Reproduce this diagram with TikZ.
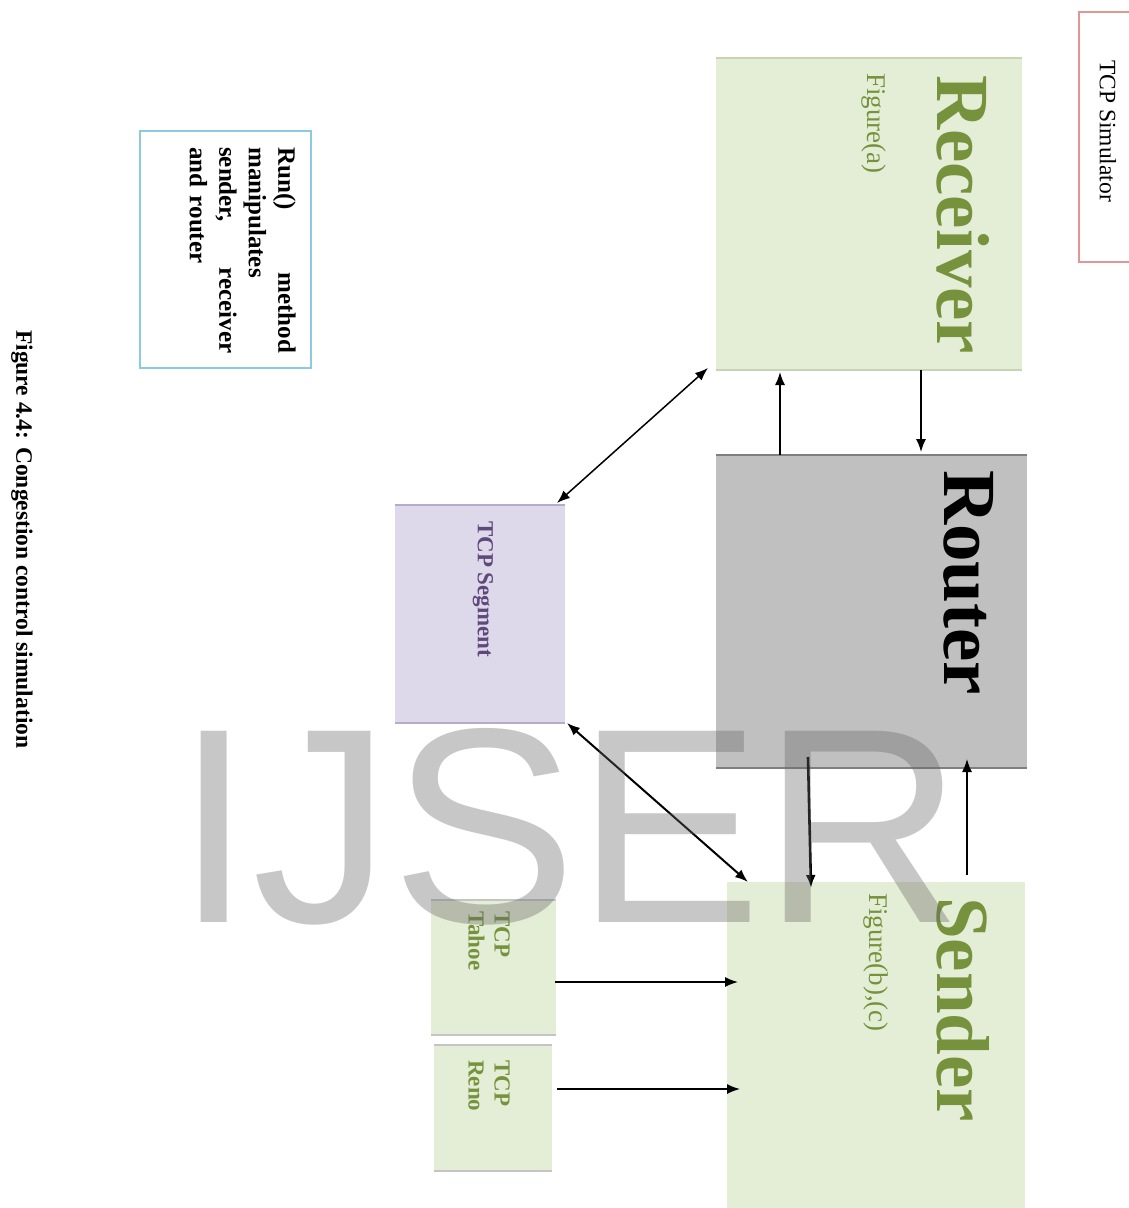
\documentclass[tikz,border=0pt]{standalone}
\usepackage{fontspec}
\setmainfont{Liberation Serif}
\newfontfamily\markfont{Liberation Sans}
\usetikzlibrary{arrows.meta,calc}

\definecolor{boxgreen}{HTML}{E4EDD5}
\definecolor{edgegreen}{HTML}{C9D4B2}
\definecolor{labelgreen}{HTML}{76923C}
\definecolor{routergray}{HTML}{C0C0C0}
\definecolor{routeredge}{HTML}{7F7F7F}
\definecolor{seglilac}{HTML}{DDD8EA}
\definecolor{segedge}{HTML}{B5ADC8}
\definecolor{segtext}{HTML}{5F497A}
\definecolor{simred}{HTML}{E39494}
\definecolor{runblue}{HTML}{8ACBE0}
\definecolor{smalledge}{HTML}{C4C4C4}
\definecolor{markgray}{HTML}{686868}

\tikzset{
  block/.style={rectangle, inner sep=0pt, outer sep=0pt, draw=none},
  vtext/.style={rotate=-90, inner sep=0pt, anchor=west},
  link/.style={-{Latex[length=13pt,width=10pt]}, line width=1.5pt},
  dlink/.style={{Latex[length=13pt,width=10pt]}-{Latex[length=13pt,width=10pt]}, line width=1.5pt},
  title/.style={vtext, font=\fontsize{75}{80}\selectfont\bfseries},
  figref/.style={vtext, font=\fontsize{27}{30}\selectfont, text=labelgreen},
  variant/.style={rotate=-90, inner sep=0pt, anchor=north west, align=left,
    font=\fontsize{23}{26}\selectfont\bfseries, text=labelgreen}
}

\begin{document}
\begin{tikzpicture}[x=1pt, y=-1pt]
\useasboundingbox[fill=white] (0,0) rectangle (1129,1208);

% boxes
\node[block, draw=simred, line width=1.5pt, minimum width=61pt, minimum height=250pt] (sim) at (1109.5,137) {};
\node[block, fill=boxgreen, minimum width=306pt, minimum height=312pt] (rec) at (869,214) {};
\node[block, fill=routergray, minimum width=311pt, minimum height=313pt] (rou) at (871.5,611.5) {};
\node[block, fill=seglilac, minimum width=170pt, minimum height=218pt] (seg) at (480,614) {};
\node[block, fill=boxgreen, minimum width=298pt, minimum height=340pt] (sen) at (876,1052) {};
\node[block, fill=boxgreen, minimum width=125pt, minimum height=135pt] (tah) at (493.5,967.5) {};
\node[block, fill=boxgreen, minimum width=118pt, minimum height=126pt] (ren) at (493,1108) {};
\node[block, draw=runblue, line width=1.5pt, fill=white, minimum width=171pt, minimum height=237pt] (run) at (225.5,249.5) {};

% box edges
\draw[edgegreen, line width=1.2pt] (rec.north west) -- (rec.north east) (rec.south west) -- (rec.south east);
\draw[routeredge, line width=1.2pt] (rou.north west) -- (rou.north east) (rou.south west) -- (rou.south east);
\draw[segedge, line width=1.2pt] (seg.north west) -- (seg.north east) (seg.south west) -- (seg.south east);
\draw[smalledge, line width=1.2pt] (tah.north west) -- (tah.north east) (tah.south west) -- (tah.south east);
\draw[smalledge, line width=1.2pt] (ren.north west) -- (ren.north east) (ren.south west) -- (ren.south east);

% connectors
\draw[dlink] ([xshift=-8pt,yshift=2pt]seg.north east) -- ([xshift=-8pt,yshift=2pt]rec.south west);
\draw[link] ([xshift=64pt]rou.north west) -- ([xshift=64pt,yshift=-2pt]rec.south west);
\draw[link] ([xshift=205pt]rec.south west) -- ([xshift=205pt,yshift=3pt]rou.north west);
\draw[link, line width=2.6pt] ([xshift=92pt,yshift=11pt]rou.south west) -- ([xshift=84pt,yshift=-6pt]sen.north west);
\draw[link] ([xshift=240pt,yshift=7pt]sen.north west) -- ([xshift=251pt,yshift=9pt]rou.south west);
\draw[dlink, line width=2pt] ([xshift=2pt]seg.south east) -- ([xshift=21pt]sen.north west);
\draw[link] ([xshift=-1pt,yshift=-14.5pt]tah.east) -- ($(sen.north west)+(11,100)$);
\draw[link] ([xshift=5pt,yshift=19pt]ren.east) -- ($(sen.north west)+(13,207)$);

% labels
\node[vtext, font=\fontsize{23.5}{26}\selectfont] (simlabel) at (1108,60) {TCP Simulator};
\node[title, text=labelgreen] (reclabel) at (963,75) {Receiver};
\node[figref] (recfig) at (874,73) {Figure(a)};
\node[title, text=black] (roulabel) at (969,470) {Router};
\node[title, text=labelgreen] (senlabel) at (963,897) {Sender};
\node[figref] (senfig) at (876,893) {Figure(b),(c)};
\node[vtext, font=\fontsize{23}{26}\selectfont\bfseries, text=segtext] (seglabel) at (483,521) {TCP Segment};
\node[variant] (tahlabel) at (510,911) {TCP\\Tahoe};
\node[variant] (renlabel) at (510,1060) {TCP\\Reno};
\node[rotate=-90, inner sep=0pt, anchor=north west, text width=206pt, align=left,
      font=\fontsize{25}{29.5}\selectfont\bfseries] (runlabel) at (296,147)
  {Run()\hfill method\\manipulates\\sender,\hfill receiver\\and router};
\node[vtext, font=\fontsize{23.5}{26}\selectfont\bfseries] (caption) at (22,330)
  {Figure 4.4: Congestion control simulation};

% watermark
\node[anchor=base west, inner sep=0pt, font=\markfont\fontsize{278}{278}\selectfont,
      text=markgray, text opacity=0.37] (mark) at (175,922) {IJSER};
\end{tikzpicture}
\end{document}
